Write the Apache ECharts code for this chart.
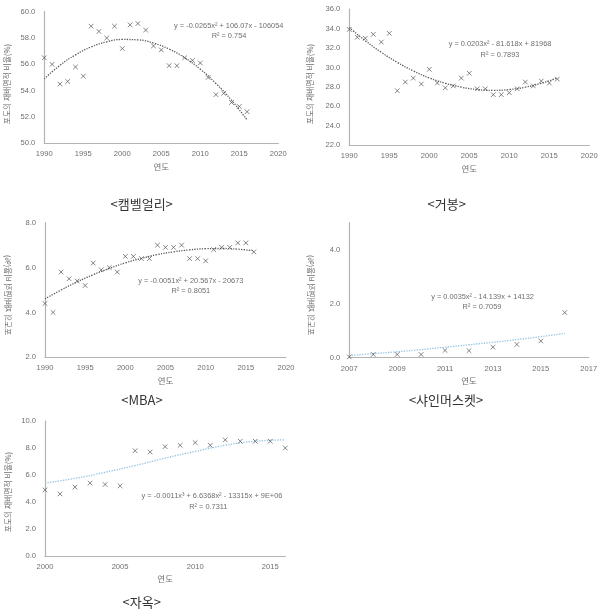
<!DOCTYPE html>
<html>
<head>
<meta charset="utf-8">
<script src="https://cdn.jsdelivr.net/npm/echarts@6/dist/echarts.min.js"></script>
<style>
html,body{margin:0;padding:0;background:#fff;}
#c{width:607px;height:615px;}
</style>
</head>
<body>
<div id="c"></div>
<script>
// ---- data ----
const yearsLong = [1990,1991,1992,1993,1994,1995,1996,1997,1998,1999,2000,2001,2002,2003,2004,2005,2006,2007,2008,2009,2010,2011,2012,2013,2014,2015,2016];
const campbellShare = [56.5,56.0,54.5,54.7,55.8,55.1,58.9,58.5,58.0,58.9,57.2,59.0,59.1,58.6,57.4,57.1,55.9,55.9,56.5,56.3,56.1,55.0,53.7,53.8,53.1,52.8,52.4];
const kyohoShare = [33.9,33.1,33.0,33.4,32.6,33.5,27.6,28.5,28.9,28.3,29.8,28.4,27.9,28.1,28.9,29.4,27.8,27.8,27.2,27.2,27.4,27.8,28.5,28.1,28.6,28.4,28.8];
const mbaShare = [4.4,4.0,5.8,5.5,5.4,5.2,6.2,5.9,6.0,5.8,6.5,6.5,6.4,6.4,7.0,6.9,6.9,7.0,6.4,6.4,6.3,6.8,6.9,6.9,7.1,7.1,6.7];
const shineYears = [2007,2008,2009,2010,2011,2012,2013,2014,2015,2016];
const shineShare = [0.03,0.12,0.12,0.12,0.27,0.26,0.39,0.49,0.62,1.67];
const jaokYears = [2000,2001,2002,2003,2004,2005,2006,2007,2008,2009,2010,2011,2012,2013,2014,2015,2016];
const jaokShare = [4.9,4.6,5.1,5.4,5.3,5.2,7.8,7.7,8.1,8.2,8.4,8.2,8.6,8.5,8.5,8.5,8.0];

// trendlines
const trendYearsLong = [1990,1992,1994,1996,1998,2000,2002,2004,2006,2008,2010,2012,2014,2016];
const campbellTrend = [54.9,55.92,56.72,57.32,57.71,57.89,57.86,57.61,57.16,56.50,55.63,54.55,53.27,51.77];
const kyohoTrend = [34.1,32.74,31.55,30.52,29.64,28.92,28.37,27.97,27.73,27.65,27.73,27.97,28.37,28.92];
const mbaTrend = [4.6,5.00,5.36,5.68,5.96,6.21,6.41,6.58,6.70,6.79,6.84,6.85,6.82,6.75];
const shineTrend = [0.08,0.15,0.22,0.30,0.39,0.48,0.57,0.67,0.78,0.90];
const jaokTrendYears = [2000,2002,2004,2006,2008,2010,2012,2014,2016];
const jaokTrend = [5.4,5.75,6.2,6.7,7.25,7.75,8.2,8.5,8.6];

const captions = ['<캠벨얼리>','<거봉>','<MBA>','<샤인머스켓>','<자옥>'];
const equations = [
  ['y = -0.0265x² + 106.07x - 106054','R² = 0.754'],
  ['y = 0.0203x² - 81.618x + 81968','R² = 0.7893'],
  ['y = -0.0051x² + 20.567x - 20673','R² = 0.8051'],
  ['y = 0.0035x² - 14.139x + 14132','R² = 0.7059'],
  ['y = -0.0011x³ + 6.6368x² - 13315x + 9E+06','R² = 0.7311']
];
const xName = '연도';
const yName = '포도의 재배면적 비율(%)';

// ---- layout ----
const FONT = '"Liberation Sans", Arial, sans-serif';
const TXT = '#6f6f6f';
const AXIS = '#b3b3b3';
const MARK = '#555555';

const panels = [
  {grid:{left:44.3,top:11.7,width:234,height:131.6}, x:[1990,2020,5], y:[50,60,2], xs:yearsLong, ys:campbellShare, tx:trendYearsLong, ty:campbellTrend, tc:'#5a5a5a',
   eq:[228.7,25.7,229,35.7], cap:[141.7,204], yn:[7,84], mirror:false},
  {grid:{left:349.3,top:9,width:240,height:136.3}, x:[1990,2020,5], y:[22,36,2], xs:yearsLong, ys:kyohoShare, tx:trendYearsLong, ty:kyohoTrend, tc:'#5a5a5a',
   eq:[500,44.3,500,55], cap:[446.7,204], yn:[310,84], mirror:false},
  {grid:{left:45,top:222.7,width:241,height:134.6}, x:[1990,2020,5], y:[2,8,2], xs:yearsLong, ys:mbaShare, tx:trendYearsLong, ty:mbaTrend, tc:'#5a5a5a',
   eq:[190.8,281,190.8,290.7], cap:[142,400], yn:[8,295], mirror:true},
  {grid:{left:349.3,top:222.7,width:239.4,height:135}, x:[2007,2017,2], y:[0,5,2], xs:shineYears, ys:shineShare, tx:shineYears, ty:shineTrend, tc:'#8fc3e3',
   eq:[482.5,296.7,482,307.3], cap:[446,400], yn:[311,295], mirror:true},
  {grid:{left:45,top:421,width:240.3,height:135}, x:[2000,2016,5], y:[0,10,2], xs:jaokYears, ys:jaokShare, tx:jaokTrendYears, ty:jaokTrend, tc:'#8fc3e3',
   eq:[212,495.7,208.3,506.7], cap:[141.7,602], yn:[8,492], mirror:false}
];

const grids = [], xAxes = [], yAxes = [], series = [], graphics = [];
panels.forEach((p, i) => {
  grids.push(Object.assign({containLabel:false}, p.grid));
  xAxes.push({
    gridIndex:i, type:'value', min:p.x[0], max:p.x[1], interval:p.x[2],
    axisLine:{show:true, onZero:false, lineStyle:{color:AXIS, width:1.2}},
    axisTick:{show:false}, splitLine:{show:false},
    axisLabel:{color:TXT, fontFamily:FONT, fontSize:7.6, margin:7, hideOverlap:false, showMaxLabel: i===4 ? false : true, formatter:v=>String(v)},
    name:xName, nameLocation:'middle', nameGap:19,
    nameTextStyle:{color:TXT, fontFamily:'"Noto Sans CJK KR", sans-serif', fontSize:8.5}
  });
  yAxes.push({
    gridIndex:i, type:'value', min:p.y[0], max:p.y[1], interval:p.y[2],
    axisLine:{show:true, onZero:false, lineStyle:{color:AXIS, width:1.2}},
    axisTick:{show:false}, splitLine:{show:false},
    axisLabel:{color:TXT, fontFamily:FONT, fontSize:7.6, margin:9, showMaxLabel: i===3 ? false : true, formatter:v=>v.toFixed(1)}
  });
  series.push({
    type:'line', xAxisIndex:i, yAxisIndex:i, showSymbol:false, smooth:true, silent:true,
    data:p.tx.map((x,k)=>[x,p.ty[k]]),
    lineStyle:{type:'dotted', width:1.3, color:p.tc}, z:2
  });
  series.push({
    type:'scatter', xAxisIndex:i, yAxisIndex:i,
    symbol:'path://M0,0L10,10M10,0L0,10', symbolSize:4.6,
    itemStyle:{color:'transparent', borderColor:MARK, borderWidth:0.9},
    data:p.xs.map((x,k)=>[x,p.ys[k]]), z:3
  });
  graphics.push({type:'text', x:p.eq[0], y:p.eq[1], style:{text:equations[i][0], font:'7.4px '+FONT, fill:TXT, align:'center', verticalAlign:'middle'}});
  graphics.push({type:'text', x:p.eq[2], y:p.eq[3], style:{text:equations[i][1], font:'7.4px '+FONT, fill:TXT, align:'center', verticalAlign:'middle'}});
  graphics.push({type:'text', x:p.cap[0], y:p.cap[1], style:{text:captions[i], font:'13px "Noto Sans CJK KR", sans-serif', fill:'#333', align:'center', verticalAlign:'middle'}});
  graphics.push({type:'text', x:p.yn[0], y:p.yn[1], rotation:Math.PI/2, scaleY: p.mirror ? -1 : 1,
    style:{text:yName, font:'7.8px "Noto Sans CJK KR", sans-serif', fill:TXT, align:'center', verticalAlign:'middle'}});
});

const chart = echarts.init(document.getElementById('c'), null, {renderer:'canvas'});
chart.setOption({
  backgroundColor:'#ffffff',
  animation:false,
  grid:grids, xAxis:xAxes, yAxis:yAxes, series:series, graphic:graphics
});
</script>
</body>
</html>
